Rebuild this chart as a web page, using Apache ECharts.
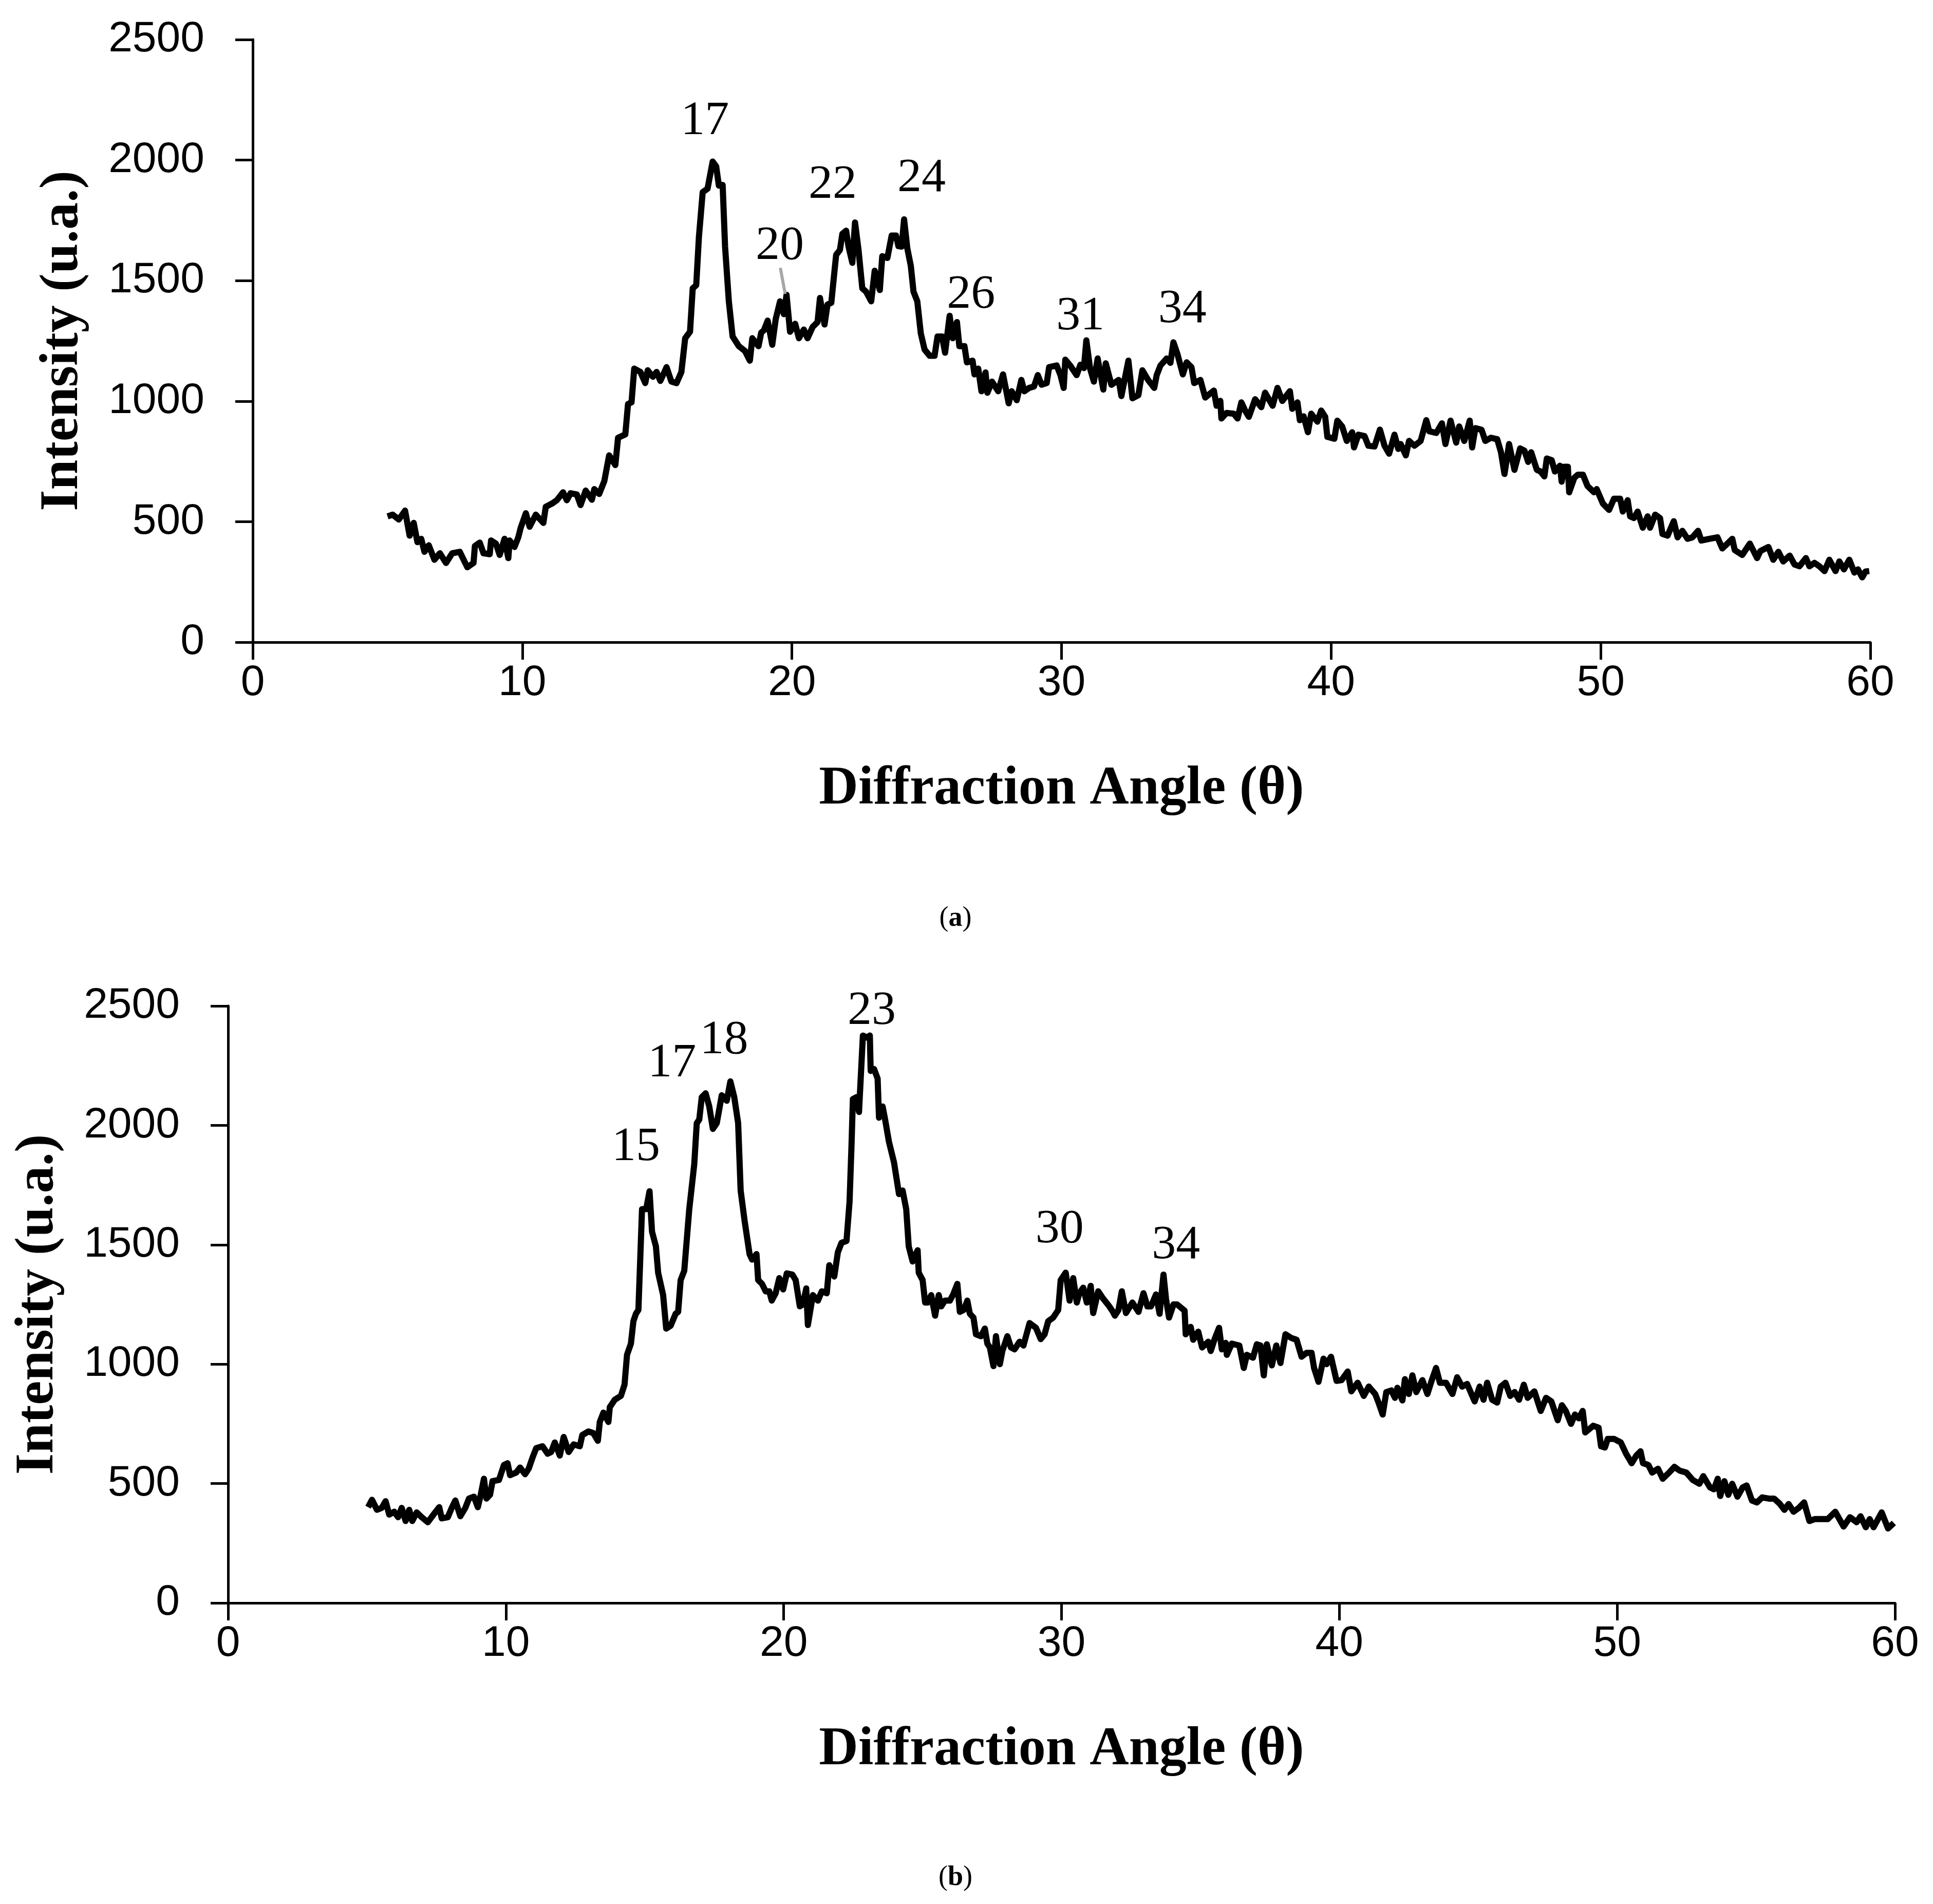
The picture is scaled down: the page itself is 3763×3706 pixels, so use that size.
<!DOCTYPE html>
<html>
<head>
<meta charset="utf-8">
<title>Diffraction patterns (a) and (b)</title>
<script src="https://cdn.jsdelivr.net/npm/echarts@6.0.0/dist/echarts.min.js"></script>
<style>
    html, body { margin: 0; padding: 0; background: #fff; }
    #chart { width: 3763px; height: 3706px; }
</style>
</head>
<body>
<div id="chart"></div>
<script>
// ---- data ----

// pattern (a)
var angleA = [
    5.00, 5.19, 5.42, 5.65, 5.82, 5.97, 6.11, 6.25, 6.37, 6.53, 6.74, 6.94, 7.17, 7.40, 7.68, 7.96,
    8.19, 8.24, 8.42, 8.56, 8.79, 8.84, 9.02, 9.16, 9.34, 9.48, 9.53, 9.71, 9.85, 9.94, 10.13, 10.27,
    10.50, 10.78, 10.87, 11.10, 11.28, 11.51, 11.65, 11.79, 12.02, 12.16, 12.35, 12.58, 12.67, 12.85,
    13.04, 13.22, 13.45, 13.55, 13.82, 13.92, 14.05, 14.15, 14.38, 14.56, 14.65, 14.84, 14.98, 15.12,
    15.35, 15.53, 15.72, 15.90, 16.04, 16.22, 16.32, 16.45, 16.55, 16.69, 16.87, 17.06, 17.19, 17.29,
    17.43, 17.52, 17.66, 17.80, 18.03, 18.26, 18.44, 18.53, 18.76, 18.86, 18.96, 19.10, 19.27, 19.40,
    19.56, 19.70, 19.80, 19.93, 20.12, 20.26, 20.44, 20.58, 20.77, 20.95, 21.04, 21.21, 21.32, 21.46,
    21.55, 21.64, 21.78, 21.87, 22.01, 22.10, 22.24, 22.34, 22.47, 22.61, 22.75, 22.94, 23.07, 23.26,
    23.35, 23.54, 23.70, 23.86, 23.95, 24.07, 24.16, 24.28, 24.41, 24.51, 24.65, 24.78, 24.92, 25.11,
    25.29, 25.40, 25.57, 25.68, 25.85, 25.96, 26.12, 26.21, 26.40, 26.49, 26.70, 26.77, 26.91, 27.03,
    27.18, 27.25, 27.42, 27.65, 27.83, 28.04, 28.15, 28.34, 28.51, 28.62, 28.80, 28.98, 29.12, 29.26,
    29.45, 29.54, 29.82, 29.96, 30.08, 30.14, 30.32, 30.56, 30.70, 30.83, 30.92, 31.06, 31.20, 31.34,
    31.55, 31.64, 31.85, 32.12, 32.22, 32.48, 32.63, 32.85, 33.00, 33.21, 33.44, 33.53, 33.67, 33.90,
    34.04, 34.15, 34.30, 34.50, 34.64, 34.82, 34.92, 35.15, 35.33, 35.65, 35.75, 35.89, 35.93, 36.12,
    36.39, 36.53, 36.67, 36.81, 36.95, 37.18, 37.41, 37.55, 37.83, 38.01, 38.19, 38.47, 38.56, 38.75,
    38.84, 38.98, 39.14, 39.26, 39.49, 39.63, 39.78, 39.86, 40.12, 40.23, 40.41, 40.58, 40.78, 40.85,
    41.01, 41.24, 41.38, 41.61, 41.81, 41.98, 42.15, 42.35, 42.49, 42.58, 42.77, 42.89, 43.09, 43.32,
    43.53, 43.64, 43.90, 44.11, 44.24, 44.43, 44.64, 44.75, 44.94, 45.14, 45.23, 45.35, 45.58, 45.72,
    45.93, 46.16, 46.30, 46.43, 46.60, 46.80, 47.01, 47.17, 47.31, 47.42, 47.63, 47.77, 47.91, 48.00,
    48.18, 48.30, 48.49, 48.55, 48.65, 48.78, 48.83, 49.02, 49.15, 49.34, 49.51, 49.75, 49.85, 50.08,
    50.31, 50.49, 50.72, 50.82, 51.00, 51.09, 51.23, 51.37, 51.56, 51.74, 51.83, 52.02, 52.20, 52.29,
    52.48, 52.71, 52.85, 53.03, 53.22, 53.40, 53.61, 53.73, 54.05, 54.33, 54.51, 54.70, 54.88, 54.97,
    55.25, 55.53, 55.80, 55.92, 56.22, 56.40, 56.59, 56.77, 57.01, 57.19, 57.37, 57.61, 57.74, 57.93,
    58.11, 58.30, 58.48, 58.71, 58.85, 59.02, 59.22, 59.41, 59.54, 59.70, 59.82, 59.96
];
var intensityA = [
    522, 529, 509, 546, 442, 495, 415, 429, 375, 402, 342, 369, 329, 369, 375, 311,
    329, 399, 413, 369, 365, 422, 409, 362, 429, 349, 422, 395, 435, 475, 535, 479,
    529, 495, 562, 575, 589, 622, 589, 618, 613, 569, 629, 591, 635, 615,
    668, 775, 735, 848, 862, 988, 995, 1135, 1121, 1075, 1128, 1101, 1121, 1084,
    1141, 1081, 1075, 1121, 1261, 1288, 1468, 1481, 1681, 1867, 1881, 1994, 1974, 1894,
    1897, 1641, 1414, 1268, 1228, 1208, 1168, 1261, 1228, 1284, 1294, 1334, 1234, 1341,
    1414, 1361, 1441, 1288, 1321, 1261, 1297, 1261, 1308, 1328, 1428, 1318, 1401, 1408,
    1508, 1607, 1627, 1694, 1707, 1641, 1574, 1741, 1627, 1468, 1454, 1414, 1541, 1461,
    1601, 1594, 1687, 1687, 1643, 1641, 1754, 1634, 1561, 1454, 1414, 1281, 1214, 1188,
    1188, 1268, 1268, 1201, 1354, 1261, 1328, 1228, 1228, 1161, 1168, 1111, 1135, 1041,
    1119, 1035, 1081, 1041, 1111, 991, 1041, 1004, 1088, 1041, 1055, 1061, 1108, 1068,
    1075, 1141, 1148, 1108, 1055, 1172, 1148, 1108, 1151, 1137, 1252, 1135, 1081, 1177,
    1048, 1157, 1068, 1088, 1021, 1168, 1012, 1025, 1128, 1088, 1055, 1108, 1148, 1177,
    1159, 1244, 1195, 1111, 1161, 1141, 1075, 1088, 1015, 1044, 981, 1001, 928, 951,
    948, 928, 995, 961, 935, 1008, 975, 1035, 981, 1055, 1001, 1041, 968, 995,
    921, 937, 871, 948, 915, 961, 935, 852, 844, 919, 895, 835, 871, 808,
    861, 855, 815, 812, 882, 815, 782, 861, 802, 822, 775, 835, 815, 835,
    921, 875, 868, 908, 822, 919, 828, 895, 835, 919, 808, 888, 881, 835,
    848, 842, 788, 698, 822, 715, 804, 795, 748, 788, 715, 708, 688, 762,
    755, 708, 732, 666, 728, 728, 622, 682, 695, 695, 648, 622, 635, 575,
    549, 595, 595, 542, 589, 522, 515, 542, 475, 522, 475, 529, 515, 449,
    442, 502, 435, 462, 429, 435, 462, 422, 429, 435, 389, 409, 429, 382,
    362, 409, 349, 378, 395, 342, 375, 335, 359, 322, 315, 349, 315, 329,
    315, 295, 342, 295, 335, 302, 342, 289, 302, 269, 293, 295
];
var peakTextA = ['17', '20', '22', '24', '26', '31', '34'];
var peakAngleA = [16.77, 19.55, 21.51, 24.81, 26.64, 30.70, 34.48];
var peakIntensityA = [2161, 1643, 1897, 1923, 1441, 1351, 1381];
var leaderA = [[19.57, 1553], [19.75, 1445]];

// pattern (b)
var angleB = [
    5.04, 5.18, 5.36, 5.53, 5.67, 5.80, 5.98, 6.12, 6.25, 6.39, 6.52, 6.63, 6.79, 6.97, 7.19, 7.42,
    7.60, 7.69, 7.91, 8.05, 8.18, 8.36, 8.54, 8.67, 8.85, 8.99, 9.08, 9.21, 9.30, 9.43, 9.52, 9.75,
    9.93, 10.06, 10.15, 10.37, 10.51, 10.69, 10.82, 10.96, 11.09, 11.32, 11.50, 11.63, 11.76, 11.94,
    12.08, 12.26, 12.44, 12.66, 12.75, 12.97, 13.15, 13.31, 13.38, 13.51, 13.69, 13.74, 13.92, 14.14,
    14.27, 14.36, 14.50, 14.59, 14.68, 14.77, 14.90, 15.05, 15.17, 15.26, 15.40, 15.48, 15.66, 15.77,
    15.93, 16.11, 16.20, 16.29, 16.42, 16.60, 16.78, 16.87, 16.96, 17.05, 17.19, 17.32, 17.45, 17.59,
    17.77, 17.95, 18.08, 18.22, 18.36, 18.45, 18.59, 18.77, 18.86, 19.02, 19.08, 19.22, 19.35, 19.48,
    19.57, 19.71, 19.84, 19.98, 20.11, 20.31, 20.43, 20.58, 20.69, 20.81, 20.87, 21.05, 21.23, 21.37,
    21.55, 21.64, 21.82, 21.95, 22.08, 22.26, 22.37, 22.44, 22.49, 22.62, 22.71, 22.85, 22.98, 23.10,
    23.13, 23.25, 23.38, 23.43, 23.56, 23.65, 23.79, 23.97, 24.15, 24.28, 24.41, 24.50, 24.64, 24.82,
    24.86, 25.00, 25.09, 25.18, 25.31, 25.45, 25.58, 25.67, 25.80, 25.98, 26.10, 26.25, 26.34, 26.48,
    26.61, 26.70, 26.83, 26.92, 27.10, 27.24, 27.33, 27.42, 27.55, 27.64, 27.78, 27.87, 28.05, 28.18,
    28.31, 28.49, 28.63, 28.85, 29.08, 29.25, 29.39, 29.52, 29.70, 29.88, 29.97, 30.15, 30.29, 30.42,
    30.55, 30.64, 30.78, 30.91, 31.05, 31.14, 31.32, 31.50, 31.72, 31.85, 31.92, 32.05, 32.17, 32.32,
    32.55, 32.77, 32.95, 33.09, 33.22, 33.40, 33.53, 33.67, 33.76, 33.87, 34.03, 34.16, 34.43, 34.47,
    34.65, 34.74, 34.92, 35.06, 35.28, 35.37, 35.51, 35.67, 35.77, 35.91, 35.95, 36.13, 36.40, 36.56,
    36.67, 36.89, 37.03, 37.16, 37.28, 37.39, 37.57, 37.73, 37.88, 38.06, 38.28, 38.46, 38.64, 38.82,
    39.00, 39.09, 39.25, 39.43, 39.54, 39.70, 39.90, 40.08, 40.30, 40.43, 40.66, 40.88, 41.06, 41.29,
    41.42, 41.56, 41.69, 41.87, 42.00, 42.09, 42.27, 42.36, 42.50, 42.63, 42.77, 42.99, 43.17, 43.32,
    43.48, 43.62, 43.84, 44.07, 44.24, 44.42, 44.60, 44.87, 45.05, 45.19, 45.32, 45.50, 45.68, 45.81,
    45.98, 46.15, 46.31, 46.47, 46.64, 46.78, 47.02, 47.25, 47.44, 47.63, 47.86, 48.01, 48.15, 48.34,
    48.48, 48.62, 48.76, 48.85, 49.14, 49.33, 49.42, 49.56, 49.66, 49.89, 50.13, 50.32, 50.52, 50.69,
    50.84, 50.93, 51.12, 51.26, 51.47, 51.64, 51.87, 52.06, 52.25, 52.49, 52.72, 52.96, 53.10, 53.34,
    53.48, 53.62, 53.71, 53.86, 54.00, 54.14, 54.33, 54.52, 54.66, 54.85, 55.03, 55.22, 55.46, 55.65,
    55.84, 56.02, 56.17, 56.35, 56.54, 56.73, 56.92, 57.11, 57.35, 57.58, 57.85, 58.15, 58.38, 58.62,
    58.76, 58.95, 59.09, 59.23, 59.52, 59.75, 59.96
];
var intensityB = [
    401, 432, 390, 398, 426, 370, 382, 359, 398, 343, 390, 343, 379, 359, 338, 374,
    401, 354, 359, 398, 429, 363, 398, 437, 445, 401, 445, 520, 437, 453, 510, 515,
    578, 585, 535, 546, 567, 539, 562, 609, 648, 656, 625, 632, 672, 617,
    695, 632, 664, 656, 703, 718, 711, 679, 758, 797, 758, 820, 851, 867,
    914, 1039, 1086, 1180, 1211, 1227, 1649, 1649, 1724, 1555, 1493, 1383, 1289, 1149,
    1161, 1211, 1219, 1352, 1391, 1649, 1837, 2009, 2024, 2118, 2134, 2079, 1985, 2009,
    2126, 2103, 2184, 2118, 2009, 1727, 1602, 1461, 1438, 1461, 1352, 1336, 1305, 1305,
    1266, 1297, 1360, 1313, 1380, 1375, 1352, 1242, 1250, 1317, 1164, 1289, 1266, 1305,
    1297, 1414, 1367, 1469, 1508, 1516, 1680, 1915, 2110, 2118, 2056, 2376, 2368, 2376,
    2228, 2236, 2196, 2032, 2079, 2024, 1930, 1845, 1712, 1727, 1649, 1493, 1430, 1477,
    1383, 1352, 1258, 1258, 1289, 1203, 1289, 1242, 1266, 1266, 1292, 1336, 1219, 1227,
    1266, 1211, 1195, 1125, 1117, 1149, 1086, 1070, 992, 1117, 1000, 1055, 1117, 1070,
    1062, 1094, 1078, 1172, 1152, 1105, 1125, 1180, 1195, 1227, 1352, 1383, 1266, 1360,
    1258, 1297, 1320, 1258, 1328, 1214, 1305, 1274, 1242, 1219, 1203, 1227, 1305, 1214,
    1258, 1219, 1297, 1242, 1242, 1292, 1211, 1375, 1274, 1195, 1250, 1250, 1224, 1125,
    1156, 1102, 1136, 1070, 1094, 1055, 1105, 1152, 1062, 1089, 1039, 1086, 1078, 984,
    1039, 1027, 1083, 1078, 953, 1083, 995, 1078, 1005, 1125, 1109, 1102, 1031, 1047,
    1047, 984, 926, 1023, 1000, 1031, 930, 933, 969, 886, 922, 867, 906, 875,
    836, 789, 883, 890, 859, 901, 848, 937, 875, 953, 883, 933, 875, 930,
    984, 922, 922, 875, 945, 906, 917, 844, 906, 851, 922, 851, 839, 906,
    922, 867, 883, 851, 914, 859, 886, 804, 859, 844, 765, 828, 804, 750,
    789, 773, 804, 714, 742, 734, 656, 651, 687, 687, 672, 625, 585, 617,
    635, 585, 578, 546, 562, 520, 546, 570, 554, 546, 515, 499, 531, 484,
    476, 520, 448, 510, 453, 499, 445, 484, 492, 429, 421, 442, 437, 437,
    417, 390, 414, 382, 398, 421, 343, 351, 351, 351, 382, 320, 359, 338,
    363, 317, 351, 317, 379, 312, 335
];
var peakTextB = ['15', '17', '18', '23', '30', '34'];
var peakAngleB = [14.68, 15.98, 17.85, 23.17, 29.93, 34.12];
var peakIntensityB = [1907, 2259, 2355, 2478, 1563, 1496];

var xTicks = { min: 0, max: 60, interval: 10 };
var yTicks = { min: 0, max: 2500, interval: 500 };

// ---- chart ----
var myChart = echarts.init(document.getElementById('chart'), null, { renderer: 'canvas' });

function pairs(xs, ys) {
    var out = [], i;
    for (i = 0; i < xs.length; i++) {
        out.push([xs[i], ys[i]]);
    }
    return out;
}

function peakData(texts, xs, ys) {
    var out = [], i;
    for (i = 0; i < texts.length; i++) {
        out.push({ name: texts[i], value: [xs[i], ys[i]] });
    }
    return out;
}

function plainNumber(v) {
    return String(v);
}

var tickFont = 'Liberation Sans';
var serifFont = 'Liberation Serif';

function makeX(idx) {
    return {
        type: 'value',
        gridIndex: idx,
        min: xTicks.min,
        max: xTicks.max,
        interval: xTicks.interval,
        name: 'Diffraction Angle (\u03b8)',
        nameLocation: 'middle',
        nameGap: 234,
        nameTextStyle: { color: '#000', fontFamily: serifFont, fontWeight: 'bold', fontSize: 106 },
        axisLine: { show: true, onZero: false, lineStyle: { color: '#000', width: 5 } },
        axisTick: { show: true, inside: false, length: 34, lineStyle: { color: '#000', width: 5 } },
        axisLabel: { show: true, color: '#000', fontFamily: tickFont, fontSize: 84, margin: 38, formatter: plainNumber },
        splitLine: { show: false }
    };
}

function makeY(idx) {
    return {
        type: 'value',
        gridIndex: idx,
        min: yTicks.min,
        max: yTicks.max,
        interval: yTicks.interval,
        name: 'Intensity (u.a.)',
        nameLocation: 'middle',
        nameGap: 316,
        nameTextStyle: { color: '#000', fontFamily: serifFont, fontWeight: 'bold', fontSize: 106 },
        axisLine: { show: true, onZero: false, lineStyle: { color: '#000', width: 5 } },
        axisTick: { show: true, inside: false, length: 34, lineStyle: { color: '#000', width: 5 } },
        axisLabel: { show: true, color: '#000', fontFamily: tickFont, fontSize: 84, margin: 94, formatter: plainNumber },
        splitLine: { show: false }
    };
}

function peakSeries(idx, data) {
    return {
        type: 'scatter',
        xAxisIndex: idx,
        yAxisIndex: idx,
        silent: true,
        symbolSize: 1,
        itemStyle: { color: 'rgba(255,255,255,0)' },
        label: {
            show: true,
            position: 'inside',
            formatter: '{b}',
            color: '#000',
            opacity: 1,
            textBorderWidth: 0,
            fontFamily: serifFont,
            fontSize: 94
        },
        data: data,
        z: 5
    };
}

var captionRich = {
    p: { fontFamily: serifFont, fontSize: 54, fill: '#000' },
    b: { fontFamily: serifFont, fontSize: 54, fontWeight: 'bold', fill: '#000' }
};

var option = {
    backgroundColor: '#fff',
    animation: false,
    grid: [
        { left: 492, top: 77, width: 3149, height: 1173, containLabel: false },
        { left: 444, top: 1958, width: 3245, height: 1162, containLabel: false }
    ],
    xAxis: [makeX(0), makeX(1)],
    yAxis: [makeY(0), makeY(1)],
    series: [
        {
            type: 'line',
            xAxisIndex: 0,
            yAxisIndex: 0,
            showSymbol: false,
            symbol: 'none',
            smooth: false,
            lineStyle: { color: '#000', width: 12, join: 'round' },
            data: pairs(angleA, intensityA),
            markLine: {
                silent: true,
                symbol: ['none', 'none'],
                label: { show: false },
                lineStyle: { color: '#a6a6a6', width: 6, type: 'solid' },
                data: [[{ coord: leaderA[0] }, { coord: leaderA[1] }]]
            }
        },
        {
            type: 'line',
            xAxisIndex: 1,
            yAxisIndex: 1,
            showSymbol: false,
            symbol: 'none',
            smooth: false,
            lineStyle: { color: '#000', width: 12, join: 'round' },
            data: pairs(angleB, intensityB)
        },
        peakSeries(0, peakData(peakTextA, peakAngleA, peakIntensityA)),
        peakSeries(1, peakData(peakTextB, peakAngleB, peakIntensityB))
    ],
    graphic: [
        {
            type: 'text',
            x: 1860,
            y: 1788,
            style: { text: '{p|(}{b|a}{p|)}', align: 'center', verticalAlign: 'middle', rich: captionRich }
        },
        {
            type: 'text',
            x: 1860,
            y: 3655,
            style: { text: '{p|(}{b|b}{p|)}', align: 'center', verticalAlign: 'middle', rich: captionRich }
        }
    ]
};

myChart.setOption(option);
</script>
</body>
</html>
